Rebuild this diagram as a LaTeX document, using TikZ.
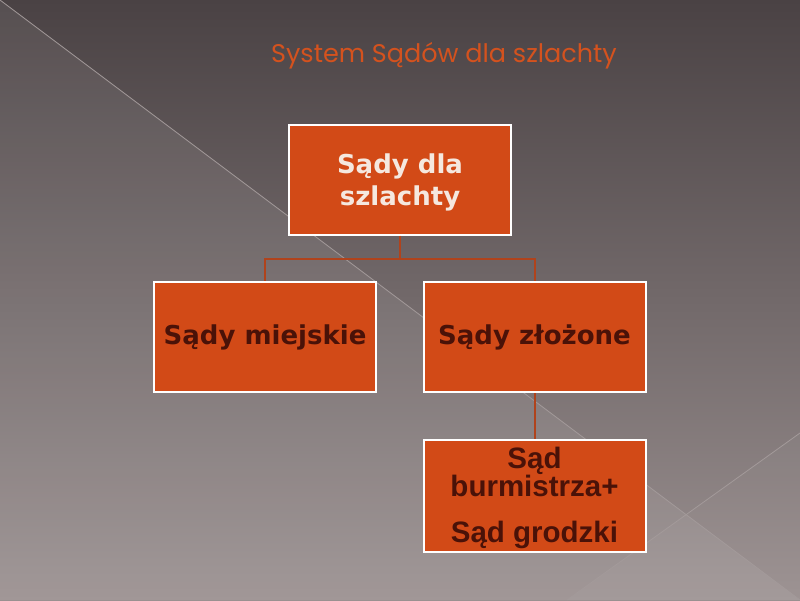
\documentclass[tikz,border=0pt]{standalone}
\usepackage{fontspec}
\setmainfont{DejaVu Sans}
\newfontfamily\boxfont{DejaVu Sans}
\newfontfamily\arialfont{Liberation Sans}
\newfontfamily\titlefont{Poppins}
\definecolor{bgtop}{HTML}{4A4244}
\definecolor{bgbot}{HTML}{9A9090}
\definecolor{boxfill}{HTML}{D24A17}
\definecolor{conncol}{HTML}{B0431C}
\definecolor{darktext}{HTML}{4A1208}
\definecolor{lighttext}{HTML}{F5E8DF}
\definecolor{titlecol}{HTML}{D4521E}
\definecolor{diagline}{HTML}{A39A9A}
\begin{document}
\begin{tikzpicture}[x=1pt,y=-1pt,
  orgbox/.style={draw=white, line width=2pt, fill=boxfill, minimum width=222pt, minimum height=110pt, inner sep=0pt, align=center},
  conn/.style={draw=conncol, line width=2pt},
  diag/.style={draw=diagline, line width=0.8pt}]
\useasboundingbox (0,0) rectangle (800,600);
\shade[top color=bgtop, bottom color=bgbot] (0,0) rectangle (800,600);
\fill[white, opacity=0.07] (0,0) -- (800,600) -- (0,600) -- cycle;
\fill[white, opacity=0.03] (567,600) -- (800,433) -- (800,600) -- cycle;
\coordinate (d1a) at (0,0);
\coordinate (d1b) at (800,600);
\coordinate (d2a) at (800,433);
\coordinate (d2b) at (567,600);
\draw[diag] (d1a) -- (d1b);
\draw[diag] (d2a) -- (d2b);
\node[font=\titlefont\fontsize{25.5}{30}\selectfont, text=titlecol, anchor=base] (title) at (444,62) {System Sądów dla szlachty};
\node[orgbox, text=lighttext, font=\boxfont\bfseries\fontsize{26}{32}\selectfont] (top) at (400,179.5) {\rule{0pt}{26pt}Sądy dla\\[0pt]szlachty};
\node[orgbox, text=darktext, font=\boxfont\bfseries\fontsize{26}{32}\selectfont] (left) at (265,337) {Sądy miejskie};
\node[orgbox, text=darktext, font=\boxfont\bfseries\fontsize{26}{32}\selectfont] (right) at (534.5,337) {Sądy złożone};
\node[orgbox, text=darktext, font=\arialfont\bfseries\fontsize{29.5}{28}\selectfont, minimum height=112pt] (bottom) at (534.5,496) {\rule{0pt}{26pt}Sąd\\burmistrza+\\[18pt]Sąd grodzki\rule[-8pt]{0pt}{8pt}};
\draw[conn] (top.south) -- ++(0,23.5) coordinate (mid) -| (left.north);
\draw[conn] (mid) -| (right.north);
\draw[conn] (right.south) -- (bottom.north);
\end{tikzpicture}
\end{document}
